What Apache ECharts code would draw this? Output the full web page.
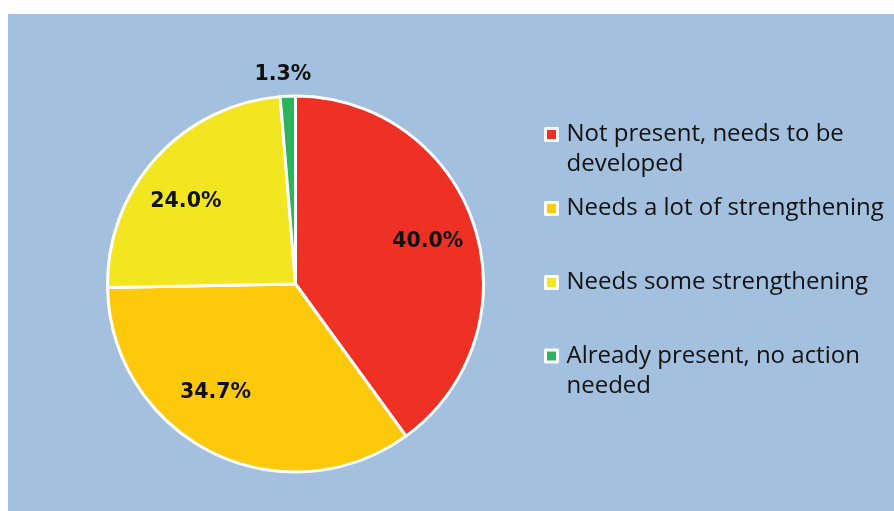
<!DOCTYPE html>
<html>
<head>
<meta charset="utf-8">
<title>Pie</title>
<script src="https://cdn.jsdelivr.net/npm/echarts@6/dist/echarts.min.js"></script>
<style>
  html, body { margin: 0; padding: 0; background: #ffffff; }
  #main { width: 894px; height: 511px; }
</style>
</head>
<body>
<div id="main"></div>
<script>
// data
var categories = [
  'Not present, needs to be\ndeveloped',
  'Needs a lot of strengthening',
  'Needs some strengthening',
  'Already present, no action\nneeded'
];
var values = [40.0, 34.7, 24.0, 1.3];
var colors = ['#ee3124', '#fec80b', '#f2e620', '#2cb35e'];

// layout
var cx = 295.5, cy = 284, R = 188;
var labelR = [137, 137, 137, 211];
var labelNudge = [[2, 0], [-19, -14], [-8, 10], [-4, 1]];
var legendTop = [89.5, 193.5, 267.5, 311];

var total = values.reduce(function (a, b) { return a + b; }, 0);
function midAngle(i) {
  var before = 0;
  for (var k = 0; k < i; k++) before += values[k];
  return (before + values[i] / 2) / total * 2 * Math.PI;
}

var pieData = categories.map(function (name, i) {
  return { name: name, value: values[i], itemStyle: { color: colors[i] } };
});

var legends = categories.map(function (name, i) {
  return {
    left: 544,
    top: legendTop[i],
    padding: 0,
    orient: 'vertical',
    selectedMode: false,
    itemWidth: 12,
    itemHeight: 12,
    icon: 'rect',
    itemStyle: { borderColor: '#ffffff', borderWidth: 3 },
    data: [name],
    // blank line on top so the icon sits next to the first line of text
    formatter: function (n) { return n.indexOf('\n') >= 0 ? '\n' + n : n; },
    textStyle: {
      fontFamily: 'Open Sans',
      fontSize: 24,
      lineHeight: 30,
      color: '#111111',
      padding: [0, 0, 0, 4]
    }
  };
});

var myChart = echarts.init(document.getElementById('main'));
myChart.setOption({
  animation: false,
  backgroundColor: '#ffffff',
  graphic: [{
    type: 'rect',
    left: 8, top: 14,
    shape: { width: 886, height: 497 },
    style: { fill: '#a3c0de' },
    z: -10
  }],
  legend: legends,
  series: [{
    type: 'pie',
    center: [cx, cy],
    radius: [0, R],
    startAngle: 90,
    clockwise: true,
    data: pieData,
    itemStyle: { borderColor: '#ffffff', borderWidth: 3 },
    emphasis: { disabled: true },
    label: {
      show: true,
      position: 'inside',
      formatter: function (p) { return p.value.toFixed(1) + '%'; },
      fontFamily: 'DejaVu Sans',
      fontWeight: 'bold',
      fontSize: 20.5,
      color: '#111111'
    },
    labelLine: { show: false },
    labelLayout: function (p) {
      var a = midAngle(p.dataIndex);
      var r = labelR[p.dataIndex];
      var n = labelNudge[p.dataIndex];
      return {
        x: cx + r * Math.sin(a) + n[0],
        y: cy - r * Math.cos(a) + n[1],
        align: 'center',
        verticalAlign: 'middle'
      };
    }
  }]
});
</script>
</body>
</html>
